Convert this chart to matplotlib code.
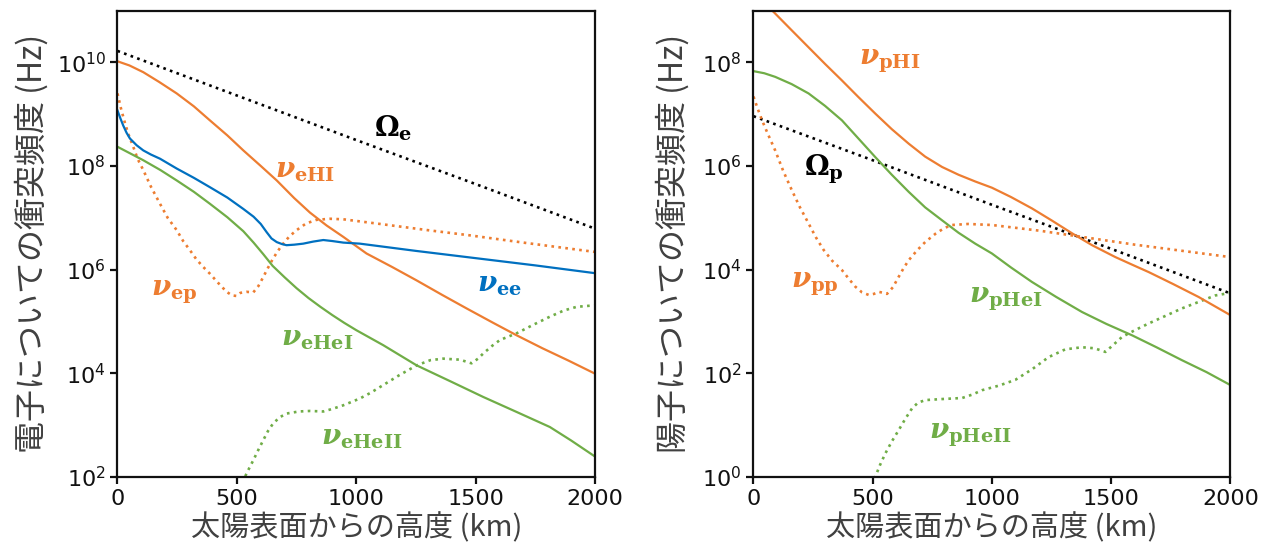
import numpy as np
import matplotlib
matplotlib.use("Agg")
import matplotlib.pyplot as plt
from matplotlib.ticker import NullLocator

# ---- data: heights (km) and log10 of frequencies (Hz) ----
# Electron panel
h_Omega_e = [0, 500, 1000, 1500, 2000]
lg_Omega_e = [10.22, 9.36, 8.50, 7.65, 6.79]

h_nu_eHI = [0, 50, 108, 175, 248, 320, 387, 460, 527, 600, 667, 740, 806, 876, 946, 1043,
            1150, 1253, 1360, 1462, 1570, 1672, 1780, 1890, 2000]
lg_nu_eHI = [10.02, 9.94, 9.81, 9.62, 9.40, 9.15, 8.88, 8.59, 8.30, 8.00, 7.72, 7.38, 7.10,
             6.85, 6.63, 6.31, 6.05, 5.79, 5.51, 5.25, 4.98, 4.73, 4.48, 4.24, 3.99]

h_nu_ee = [0, 12, 24, 38, 52, 80, 108, 140, 178, 248, 320, 387, 460, 527, 570, 600, 625,
           645, 667, 690, 708, 740, 778, 820, 862, 900, 946, 1015, 1250, 1500, 1750, 2000]
lg_nu_ee = [9.07, 8.92, 8.78, 8.64, 8.53, 8.40, 8.30, 8.22, 8.14, 7.95, 7.77, 7.59, 7.39,
            7.17, 7.02, 6.88, 6.72, 6.60, 6.53, 6.49, 6.47, 6.48, 6.50, 6.54, 6.57, 6.55,
            6.52, 6.50, 6.36, 6.22, 6.08, 5.93]

h_nu_eHeI = [0, 108, 180, 248, 320, 387, 460, 527, 570, 610, 650, 700, 750, 800, 850, 900,
             950, 1000, 1113, 1253, 1400, 1532, 1672, 1811, 1900, 2000]
lg_nu_eHeI = [8.37, 8.11, 7.92, 7.72, 7.50, 7.27, 7.01, 6.74, 6.52, 6.30, 6.07, 5.85, 5.64,
              5.45, 5.28, 5.12, 4.97, 4.83, 4.54, 4.15, 3.83, 3.54, 3.25, 2.96, 2.70, 2.39]

h_nu_ep = [0, 14, 28, 45, 66, 85, 108, 140, 178, 210, 248, 275, 304, 330, 359, 387, 420,
           457, 480, 499, 515, 540, 569, 590, 611, 630, 650, 672, 694, 720, 750, 790, 834,
           890, 946, 1100, 1300, 1476, 1700, 2000]
lg_nu_ep = [9.40, 9.12, 8.88, 8.62, 8.37, 8.13, 7.92, 7.60, 7.27, 7.00, 6.76, 6.55, 6.37,
            6.20, 6.05, 5.92, 5.75, 5.57, 5.50, 5.49, 5.55, 5.57, 5.56, 5.68, 5.86, 6.03,
            6.20, 6.36, 6.50, 6.64, 6.76, 6.89, 6.96, 6.98, 6.97, 6.88, 6.76, 6.66, 6.52,
            6.34]

h_nu_eHeII = [520, 534, 550, 569, 590, 611, 630, 652, 680, 708, 760, 806, 862, 900, 946,
              1015, 1060, 1113, 1180, 1253, 1310, 1364, 1434, 1483, 1510, 1532, 1570, 1602,
              1672, 1740, 1811, 1870, 1923, 2000]
lg_nu_eHeII = [1.75, 2.00, 2.15, 2.32, 2.52, 2.71, 2.88, 3.03, 3.15, 3.22, 3.26, 3.27, 3.26,
               3.31, 3.38, 3.51, 3.62, 3.77, 3.96, 4.15, 4.25, 4.28, 4.26, 4.19, 4.28, 4.38,
               4.53, 4.64, 4.77, 4.93, 5.09, 5.21, 5.28, 5.31]

# Proton panel
h_Omega_p = [0, 500, 1000, 1500, 2000]
lg_Omega_p = [6.96, 6.11, 5.25, 4.40, 3.54]

h_nu_pHI = [0, 40, 85, 160, 231, 300, 371, 440, 511, 580, 651, 720, 791, 860, 930, 1000,
            1080, 1168, 1250, 1336, 1420, 1518, 1590, 1658, 1760, 1867, 2000]
lg_nu_pHI = [9.35, 9.16, 8.97, 8.62, 8.29, 7.97, 7.65, 7.33, 7.01, 6.71, 6.43, 6.18, 5.98,
             5.83, 5.70, 5.58, 5.40, 5.18, 4.95, 4.70, 4.47, 4.24, 4.09, 3.95, 3.72, 3.47,
             3.12]

h_nu_pHeI = [0, 45, 91, 160, 231, 300, 371, 440, 511, 580, 651, 720, 791, 860, 930, 1000,
             1080, 1168, 1270, 1378, 1480, 1588, 1690, 1797, 1900, 2000]
lg_nu_pHeI = [7.83, 7.79, 7.72, 7.58, 7.40, 7.16, 6.88, 6.53, 6.17, 5.83, 5.50, 5.20, 4.95,
              4.71, 4.50, 4.31, 4.04, 3.76, 3.47, 3.18, 2.95, 2.73, 2.50, 2.25, 2.02, 1.77]

h_nu_pp = [0, 18, 36, 60, 91, 125, 161, 195, 231, 262, 294, 330, 371, 400, 427, 455, 483,
           505, 525, 545, 560, 585, 609, 630, 651, 686, 720, 763, 800, 833, 900, 1000, 1200,
           1378, 1600, 2000]
lg_nu_pp = [7.34, 7.10, 6.88, 6.62, 6.30, 5.90, 5.53, 5.20, 4.89, 4.62, 4.38, 4.17, 3.99,
            3.82, 3.67, 3.56, 3.51, 3.53, 3.57, 3.55, 3.53, 3.66, 3.86, 4.03, 4.18, 4.37,
            4.53, 4.69, 4.80, 4.86, 4.88, 4.86, 4.75, 4.63, 4.48, 4.24]

h_nu_pHeII = [495, 511, 530, 553, 580, 609, 637, 665, 690, 721, 791, 875, 920, 958, 1030,
              1098, 1170, 1238, 1308, 1378, 1430, 1476, 1510, 1546, 1600, 1658, 1730, 1797,
              1870, 1937, 2000]
lg_nu_pHeII = [-0.30, 0.00, 0.22, 0.45, 0.68, 0.90, 1.12, 1.32, 1.43, 1.48, 1.50, 1.52,
               1.59, 1.67, 1.76, 1.87, 2.08, 2.31, 2.46, 2.50, 2.48, 2.41, 2.55, 2.70, 2.83,
               2.96, 3.11, 3.25, 3.38, 3.50, 3.55]

x_ticks = [0, 500, 1000, 1500, 2000]
x_label = "太陽表面からの高度 (km)"
y_label_e = "電子についての衝突頻度 (Hz)"
y_label_p = "陽子についての衝突頻度 (Hz)"

# ---- styling ----
ORANGE = "#ED7D31"
GREEN = "#70AD47"
BLUE = "#0070C0"
BLACK = "#000000"
LABEL_GRAY = "#404040"

plt.rcParams["mathtext.fontset"] = "custom"
plt.rcParams["mathtext.rm"] = "DejaVu Serif:bold"
plt.rcParams["mathtext.bf"] = "DejaVu Serif:bold"
plt.rcParams["mathtext.it"] = "DejaVu Serif:italic:bold"
plt.rcParams["font.family"] = ["DejaVu Sans"]

CJK = ["Noto Sans CJK JP", "DejaVu Sans"]
LW = 1.6
ANN_SIZE = 20

fig = plt.figure(figsize=(12.73, 5.55), dpi=100)
ax1 = fig.add_axes([0.0923, 0.141, 0.3751, 0.840])
ax2 = fig.add_axes([0.5919, 0.141, 0.3746, 0.840])


def curve(ax, h, lg, color, ls):
    ax.plot(h, 10.0 ** np.asarray(lg), color=color, ls=ls,
            lw=LW if ls == "-" else 1.9)


def label(ax, x, lg, text, color):
    ax.text(x, 10.0 ** lg, text, color=color, fontsize=ANN_SIZE,
            ha="center", va="center")


for ax in (ax1, ax2):
    ax.set_yscale("log")
    ax.set_xlim(0, 2000)
    ax.set_xticks(x_ticks)

# electron panel
curve(ax1, h_Omega_e, lg_Omega_e, BLACK, ":")
curve(ax1, h_nu_ep, lg_nu_ep, ORANGE, ":")
curve(ax1, h_nu_eHeII, lg_nu_eHeII, GREEN, ":")
curve(ax1, h_nu_eHI, lg_nu_eHI, ORANGE, "-")
curve(ax1, h_nu_eHeI, lg_nu_eHeI, GREEN, "-")
curve(ax1, h_nu_ee, lg_nu_ee, BLUE, "-")

label(ax1, 1154, 8.73, r"$\Omega_{\mathrm{e}}$", BLACK)
label(ax1, 785, 7.92, r"$\nu_{\mathrm{eHI}}$", ORANGE)
label(ax1, 237, 5.56, r"$\nu_{\mathrm{ep}}$", ORANGE)
label(ax1, 836, 4.68, r"$\nu_{\mathrm{eHeI}}$", GREEN)
label(ax1, 1598, 5.72, r"$\nu_{\mathrm{ee}}$", BLUE)
label(ax1, 1024, 2.77, r"$\nu_{\mathrm{eHeII}}$", GREEN)

ax1.set_ylim(1e2, 1e11)
ax1.set_yticks([1e2, 1e4, 1e6, 1e8, 1e10])
ax1.set_ylabel(y_label_e, family=CJK, fontsize=23, color=LABEL_GRAY, labelpad=6)

# proton panel
curve(ax2, h_Omega_p, lg_Omega_p, BLACK, ":")
curve(ax2, h_nu_pp, lg_nu_pp, ORANGE, ":")
curve(ax2, h_nu_pHeII, lg_nu_pHeII, GREEN, ":")
curve(ax2, h_nu_pHI, lg_nu_pHI, ORANGE, "-")
curve(ax2, h_nu_pHeI, lg_nu_pHeI, GREEN, "-")

label(ax2, 570, 8.02, r"$\nu_{\mathrm{pHI}}$", ORANGE)
label(ax2, 294, 5.94, r"$\Omega_{\mathrm{p}}$", BLACK)
label(ax2, 258, 3.72, r"$\nu_{\mathrm{pp}}$", ORANGE)
label(ax2, 1059, 3.43, r"$\nu_{\mathrm{pHeI}}$", GREEN)
label(ax2, 908, 0.80, r"$\nu_{\mathrm{pHeII}}$", GREEN)

ax2.set_ylim(1e0, 1e9)
ax2.set_yticks([1e0, 1e2, 1e4, 1e6, 1e8])
ax2.set_ylabel(y_label_p, family=CJK, fontsize=23, color=LABEL_GRAY, labelpad=9)

for ax in (ax1, ax2):
    ax.yaxis.set_minor_locator(NullLocator())
    ax.set_xlabel(x_label, family=CJK, fontsize=21, color=LABEL_GRAY, labelpad=3)
    ax.tick_params(axis="both", labelsize=16, width=1.6, length=5, colors="#111111")
    for sp in ax.spines.values():
        sp.set_linewidth(1.6)
        sp.set_color("#111111")

fig.savefig("out.png", dpi=100)
